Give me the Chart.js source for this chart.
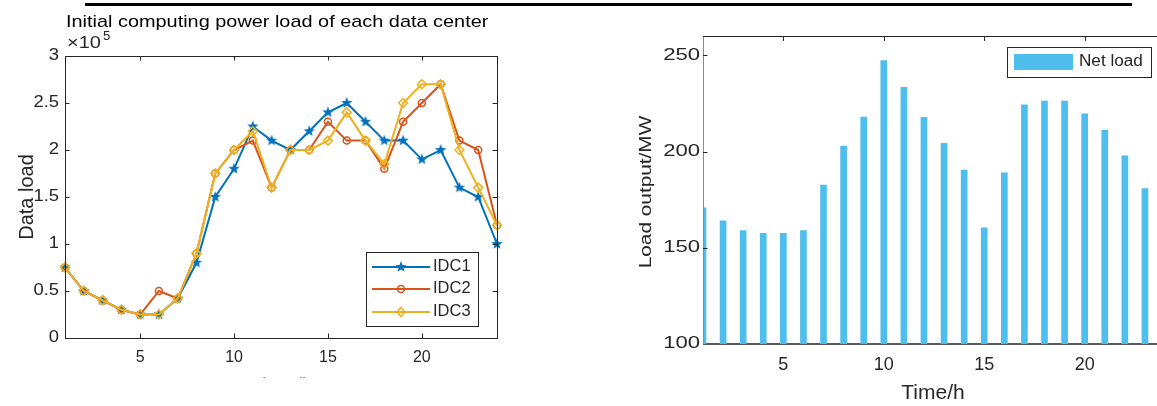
<!DOCTYPE html>
<html>
<head>
<meta charset="utf-8">
<script src="https://cdn.jsdelivr.net/npm/chart.js@4.4.0/dist/chart.umd.min.js"></script>
<style>
  body { margin: 0; background: #fff; width: 1157px; height: 406px; overflow: hidden; position: relative; }
  #topBar { position: absolute; left: 85px; top: 3px; width: 1047px; height: 3px; background: #000; }
  #leftBox { position: absolute; left: 0; top: 0; width: 580px; height: 406px; }
  #rightBox { position: absolute; left: 580px; top: 0; width: 577px; height: 406px; }
</style>
</head>
<body>
<div id="topBar"></div>
<div id="leftBox"><canvas id="loadChart" width="580" height="406"></canvas></div>
<div id="rightBox"><canvas id="netChart" width="577" height="406"></canvas></div>
<script>
// data
const hours = [1, 2, 3, 4, 5, 6, 7, 8, 9, 10, 11, 12, 13, 14, 15, 16, 17, 18, 19, 20, 21, 22, 23, 24];
const idc1 = [75000, 50000, 40000, 30000, 25000, 25000, 42000, 80000, 150000, 180000, 225000, 210000, 200000, 220000, 240000, 250000, 230000, 210000, 210000, 190000, 200000, 160000, 150000, 100000];
const idc2 = [75000, 50000, 40000, 30000, 25000, 50000, 42000, 90000, 175000, 200000, 210000, 160000, 200000, 200000, 230000, 210000, 210000, 180000, 230000, 250000, 270000, 210000, 200000, 120000];
const idc3 = [75000, 50000, 40000, 30000, 25000, 25000, 42000, 90000, 175000, 200000, 220000, 160000, 200000, 200000, 210000, 240000, 210000, 185000, 250000, 270000, 270000, 200000, 160000, 120000];
const netHours = [1, 2, 3, 4, 5, 6, 7, 8, 9, 10, 11, 12, 13, 14, 15, 16, 17, 18, 19, 20, 21, 22, 23];
const netLoad = [170.7, 164, 158.9, 157.5, 157.5, 158.9, 182.6, 202.8, 217.9, 247.2, 233.3, 217.7, 204.2, 190.4, 160.4, 188.9, 224.3, 226.2, 226.2, 219.6, 211.1, 197.7, 180.7];
const leftXTicks = [5, 10, 15, 20];
const leftYTicks = [0, 50000, 100000, 150000, 200000, 250000, 300000];
const rightXTicks = [5, 10, 15, 20];
const rightYTicks = [100, 150, 200, 250];

const BLUE = '#0072BD', RED = '#D95319', YELLOW = '#EDB120', BAR = '#4DBEEE', AXIS = '#262626';
const FONT = '"Liberation Sans", Arial, sans-serif';

// filled pentagram like the matlab marker
function makeStar(color, r) {
  const c = document.createElement('canvas');
  c.width = c.height = 2 * r + 2;
  const g = c.getContext('2d');
  g.fillStyle = color;
  g.beginPath();
  for (let i = 0; i < 10; i++) {
    const rad = i % 2 === 0 ? r : r * 0.42;
    const ang = -Math.PI / 2 + i * Math.PI / 5;
    g.lineTo(r + 1 + rad * Math.cos(ang), r + 1 + rad * Math.sin(ang));
  }
  g.closePath();
  g.fill();
  return c;
}
const starImg = makeStar(BLUE, 6);

// text with an optional horizontal stretch (the reference is squashed a bit)
function txt(ctx, s, x, y, size, o = {}) {
  ctx.save();
  ctx.translate(x, y);
  if (o.rot) ctx.rotate(o.rot);
  ctx.scale(o.sx || 1, 1);
  ctx.font = size + 'px ' + FONT;
  ctx.fillStyle = o.color || AXIS;
  ctx.textAlign = o.align || 'center';
  ctx.textBaseline = o.base || 'middle';
  ctx.fillText(s, 0, 0);
  ctx.restore();
}

const leftDeco = {
  id: 'leftDeco',
  afterDraw(chart) {
    const { ctx, chartArea: a, scales: { x, y } } = chart;
    ctx.save();
    ctx.strokeStyle = AXIS;
    ctx.lineWidth = 1;
    ctx.strokeRect(a.left + 0.5, a.top + 0.5, a.right - a.left, a.bottom - a.top);
    ctx.beginPath();
    leftXTicks.forEach(v => {
      const px = Math.round(x.getPixelForValue(v)) + 0.5;
      ctx.moveTo(px, a.bottom); ctx.lineTo(px, a.bottom - 4.5);
      ctx.moveTo(px, a.top); ctx.lineTo(px, a.top + 4.5);
    });
    leftYTicks.forEach(v => {
      const py = Math.round(y.getPixelForValue(v)) + 0.5;
      ctx.moveTo(a.left, py); ctx.lineTo(a.left + 4.5, py);
      ctx.moveTo(a.right, py); ctx.lineTo(a.right - 4.5, py);
    });
    ctx.stroke();

    // tick labels
    leftXTicks.forEach(v => txt(ctx, String(v), x.getPixelForValue(v), 358, 16));
    leftYTicks.forEach(v => txt(ctx, String(v / 100000), 59, y.getPixelForValue(v), 16, { align: 'right', sx: 1.15 }));

    // title, exponent, axis label
    txt(ctx, 'Initial computing power load of each data center', 66, 27, 17, { align: 'left', base: 'alphabetic', sx: 1.17, color: '#000' });
    txt(ctx, '\u00d710', 67, 48, 16, { align: 'left', base: 'alphabetic', sx: 1.25 });
    txt(ctx, '5', 103, 40, 12, { align: 'left', base: 'alphabetic', sx: 1.1 });
    txt(ctx, 'Data load', 27, 197, 20, { rot: -Math.PI / 2 });

    // cut-off x label at the very bottom
    ctx.save();
    ctx.beginPath();
    ctx.rect(240, 374, 80, 4);
    ctx.clip();
    txt(ctx, 'Time/h', 250, 376, 21, { align: 'left', base: 'top', color: '#888' });
    ctx.restore();

    // legend
    const lx = 366, ly = 252, lw = 112, lh = 74;
    ctx.fillStyle = '#fff';
    ctx.fillRect(lx, ly, lw, lh);
    ctx.strokeStyle = AXIS;
    ctx.strokeRect(lx + 0.5, ly + 0.5, lw, lh);
    const entries = [['IDC1', BLUE, 267], ['IDC2', RED, 289], ['IDC3', YELLOW, 312]];
    entries.forEach(([name, col, ey], i) => {
      ctx.strokeStyle = col;
      ctx.lineWidth = 2;
      ctx.beginPath();
      ctx.moveTo(372, ey); ctx.lineTo(430, ey);
      ctx.stroke();
      ctx.lineWidth = 1.5;
      if (i === 0) {
        ctx.drawImage(starImg, 401 - starImg.width / 2, ey - starImg.height / 2);
      } else if (i === 1) {
        ctx.beginPath(); ctx.arc(401, ey, 3.5, 0, Math.PI * 2); ctx.stroke();
      } else {
        ctx.beginPath();
        ctx.moveTo(401, ey - 4.5); ctx.lineTo(405, ey); ctx.lineTo(401, ey + 4.5); ctx.lineTo(397, ey);
        ctx.closePath(); ctx.stroke();
      }
      txt(ctx, name, 433, ey, 16, { align: 'left', sx: 1.03 });
    });
    ctx.restore();
  }
};

const rightDeco = {
  id: 'rightDeco',
  beforeDatasetsDraw(chart) {
    const { ctx, chartArea: a } = chart;
    ctx.save();
    ctx.strokeStyle = '#5a5a5a';
    ctx.lineWidth = 2;
    ctx.beginPath();
    ctx.moveTo(a.left, a.bottom); ctx.lineTo(a.right, a.bottom);
    ctx.stroke();
    ctx.restore();
  },
  afterDraw(chart) {
    const { ctx, chartArea: a, scales: { x, y } } = chart;
    ctx.save();
    ctx.lineWidth = 1;
    ctx.strokeStyle = '#8a8a8a';
    ctx.beginPath();
    ctx.moveTo(a.left + 0.5, a.top); ctx.lineTo(a.left + 0.5, a.bottom);
    ctx.stroke();
    ctx.strokeStyle = AXIS;
    ctx.beginPath();
    ctx.moveTo(a.left, a.top + 0.5); ctx.lineTo(a.right, a.top + 0.5);
    rightXTicks.forEach(v => {
      const px = Math.round(x.getPixelForValue(v)) + 0.5;
      ctx.moveTo(px, a.top); ctx.lineTo(px, a.top + 5);
    });
    rightYTicks.slice(1).forEach(v => {
      const py = Math.round(y.getPixelForValue(v)) + 0.5;
      ctx.moveTo(a.left, py); ctx.lineTo(a.left + 4.5, py);
    });
    ctx.stroke();

    rightXTicks.forEach(v => txt(ctx, String(v), x.getPixelForValue(v), 365, 18));
    rightYTicks.forEach(v => txt(ctx, String(v), 120, y.getPixelForValue(v), 16, { align: 'right', sx: 1.38 }));
    txt(ctx, 'Time/h', 353, 393, 21);
    txt(ctx, 'Load output/MW', 67, 192, 16, { rot: -Math.PI / 2, sx: 1.3 });

    // legend
    const lx = 427, ly = 47, lw = 144, lh = 30;
    ctx.fillStyle = '#fff';
    ctx.fillRect(lx, ly, lw, lh);
    ctx.strokeStyle = AXIS;
    ctx.strokeRect(lx + 0.5, ly + 0.5, lw, lh);
    ctx.fillStyle = BAR;
    ctx.fillRect(434, 54, 59, 16);
    txt(ctx, 'Net load', 499, 62, 16, { align: 'left', sx: 1.07 });
    ctx.restore();
  }
};

function fixedSize(w, h) {
  return s => {
    if (w !== null) s.width = w;
    if (h !== null) s.height = h;
  };
}

new Chart(document.getElementById('loadChart'), {
  type: 'line',
  data: {
    datasets: [
      {
        label: 'IDC1',
        data: hours.map((h, i) => ({ x: h, y: idc1[i] })),
        borderColor: BLUE,
        borderWidth: 2,
        pointStyle: starImg,
        order: 2,
      },
      {
        label: 'IDC2',
        data: hours.map((h, i) => ({ x: h, y: idc2[i] })),
        borderColor: RED,
        backgroundColor: 'rgba(0,0,0,0)',
        borderWidth: 2,
        pointStyle: 'circle',
        pointRadius: 3.5,
        pointBorderWidth: 1.5,
        order: 1,
      },
      {
        label: 'IDC3',
        data: hours.map((h, i) => ({ x: h, y: idc3[i] })),
        borderColor: YELLOW,
        backgroundColor: 'rgba(0,0,0,0)',
        borderWidth: 2,
        pointStyle: 'rectRot',
        pointRadius: 4.5,
        pointBorderWidth: 1.5,
        order: 0,
      },
    ],
  },
  options: {
    responsive: false,
    animation: false,
    clip: false,
    layout: { padding: { left: 0, top: 56, right: 83, bottom: 0 } },
    plugins: { legend: { display: false }, tooltip: { enabled: false } },
    scales: {
      x: {
        type: 'linear', min: 1, max: 24,
        grid: { display: false }, border: { display: false },
        ticks: { display: false },
        afterFit: fixedSize(null, 68),
      },
      y: {
        min: 0, max: 300000,
        grid: { display: false }, border: { display: false },
        ticks: { display: false },
        afterFit: fixedSize(65, null),
      },
    },
  },
  plugins: [leftDeco],
});

new Chart(document.getElementById('netChart'), {
  type: 'bar',
  data: {
    datasets: [
      {
        label: 'Net load',
        data: netHours.map((h, i) => ({ x: h, y: netLoad[i] })),
        backgroundColor: BAR,
        borderWidth: 0,
        barThickness: 6,
      },
    ],
  },
  options: {
    responsive: false,
    animation: false,
    layout: { padding: { left: 0, top: 36, right: 0, bottom: 0 } },
    plugins: { legend: { display: false }, tooltip: { enabled: false } },
    scales: {
      x: {
        type: 'linear', min: 1, max: 23.6, offset: false,
        grid: { display: false }, border: { display: false },
        ticks: { display: false },
        afterFit: fixedSize(null, 62),
      },
      y: {
        min: 100, max: 260,
        grid: { display: false }, border: { display: false },
        ticks: { display: false },
        afterFit: fixedSize(123, null),
      },
    },
  },
  plugins: [rightDeco],
});
</script>
</body>
</html>
